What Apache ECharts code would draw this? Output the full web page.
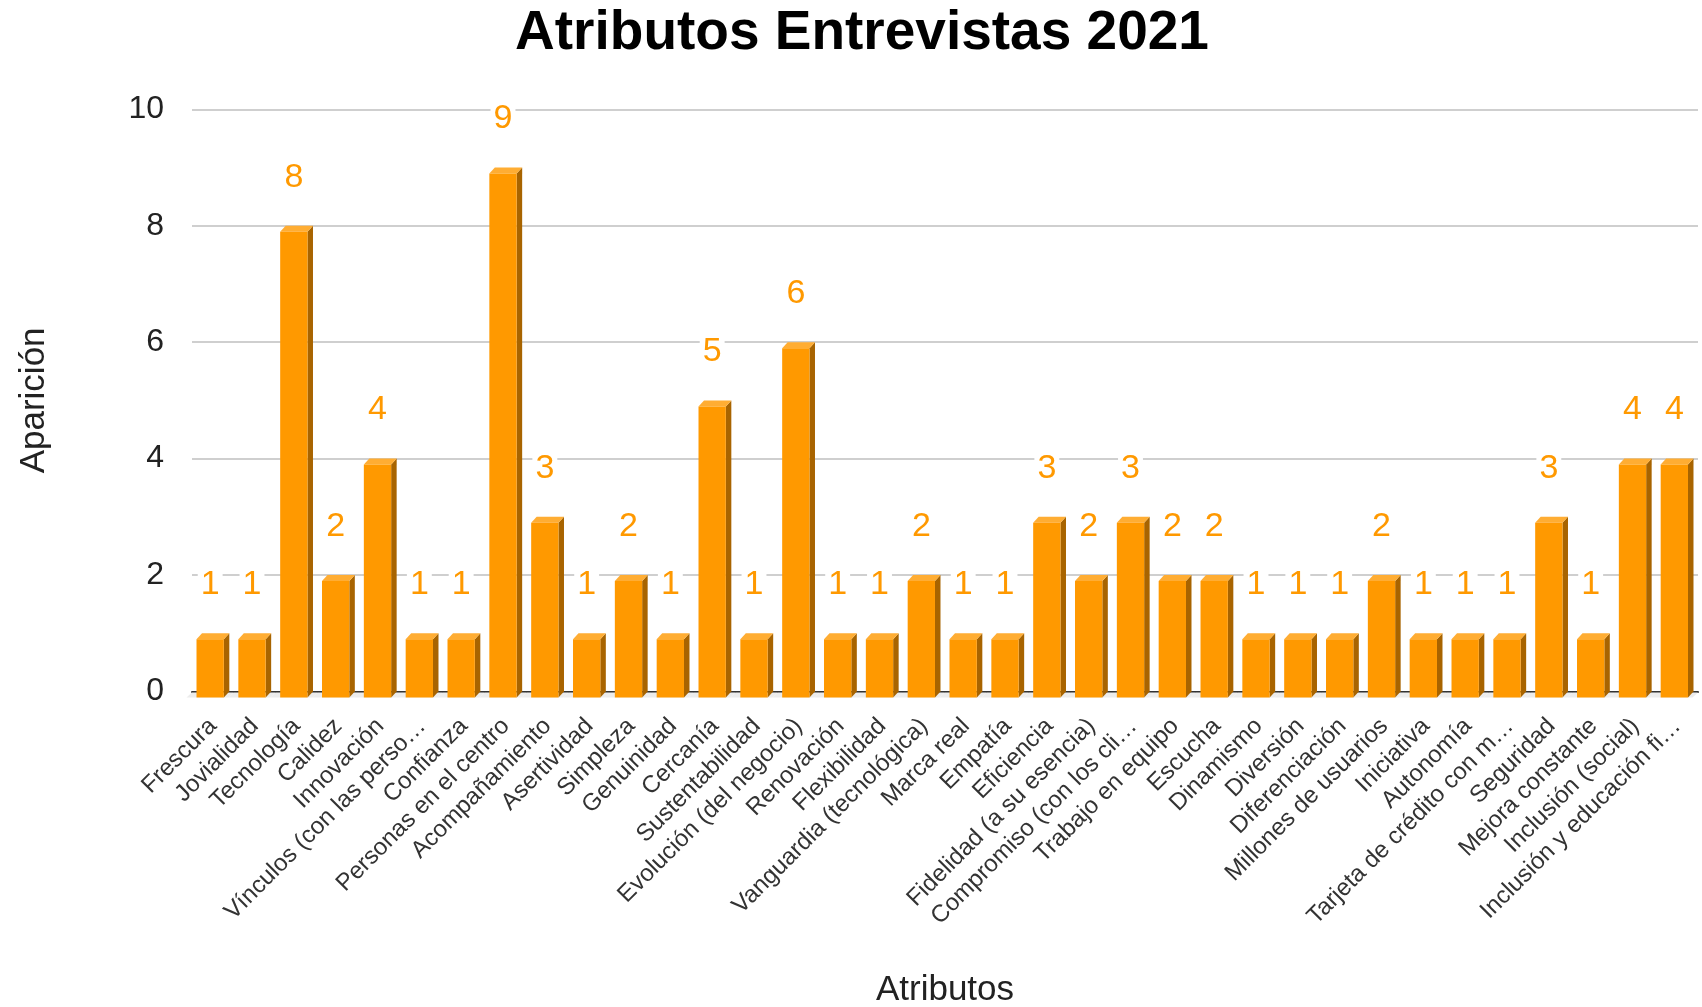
<!DOCTYPE html>
<html>
<head>
<meta charset="utf-8">
<script src="https://cdn.jsdelivr.net/npm/echarts@6/dist/echarts.min.js"></script>
<style>
  html, body { margin: 0; padding: 0; background: #fff; }
  #chart { width: 1702px; height: 1007px; }
</style>
</head>
<body>
<div id="chart"></div>
<script>
// Attributes mentioned in the 2021 interviews and how often each appeared
const categories = [
  'Frescura', 'Jovialidad', 'Tecnología', 'Calidez', 'Innovación',
  'Vínculos (con las perso…', 'Confianza', 'Personas en el centro', 'Acompañamiento',
  'Asertividad', 'Simpleza', 'Genuinidad', 'Cercanía', 'Sustentabilidad',
  'Evolución (del negocio)', 'Renovación', 'Flexibilidad', 'Vanguardia (tecnológica)',
  'Marca real', 'Empatía', 'Eficiencia', 'Fidelidad (a su esencia)',
  'Compromiso (con los cli…', 'Trabajo en equipo', 'Escucha', 'Dinamismo',
  'Diversión', 'Diferenciación', 'Millones de usuarios', 'Iniciativa', 'Autonomía',
  'Tarjeta de crédito con m…', 'Seguridad', 'Mejora constante',
  'Inclusión (social)', 'Inclusión y educación fi…'
];
const apariciones = [
  1, 1, 8, 2, 4,
  1, 1, 9, 3,
  1, 2, 1, 5, 1,
  6, 1, 1, 2,
  1, 1, 3, 2,
  3, 2, 2, 1,
  1, 1, 2, 1, 1,
  1, 3, 1,
  4, 4
];
const yTicks = { min: 0, max: 10, interval: 2 };

const FONT = 'Liberation Sans';
const FRONT = '#FF9900';
const TOP = '#FFAD33';
const SIDE = '#A86400';
const FLOOR = '#ECECEC';

// Pseudo-3D column: front face, lit top face, shaded right side and floor strip
function renderColumn(params, api) {
  const i = api.value(0);
  const v = api.value(1);
  const base = api.coord([i, 0]);
  const top = api.coord([i, v]);
  const band = api.size([1, 0])[0];
  const dx = 5.5, dy = 6;
  const faceW = band * 0.653;
  const cx = base[0];
  const xl = cx - (faceW + dx) / 2;
  const xr = xl + faceW;
  const yb = base[1] + dy;
  const yt = top[1] + dy;
  const bl = cx - band / 2, br = cx + band / 2;
  return {
    type: 'group',
    children: [
      {
        type: 'polygon', z2: -5,
        shape: { points: [[bl, base[1] + 1], [br, base[1] + 1], [br - dx, yb], [bl - dx, yb]] },
        style: { fill: FLOOR }
      },
      {
        type: 'polygon', z2: 1,
        shape: { points: [[xr, yt], [xr + dx, yt - dy], [xr + dx, yb - dy], [xr, yb]] },
        style: { fill: SIDE }
      },
      {
        type: 'polygon', z2: 1,
        shape: { points: [[xl, yt], [xl + dx, yt - dy], [xr + dx, yt - dy], [xr, yt]] },
        style: { fill: TOP }
      },
      {
        type: 'rect', z2: 2,
        shape: { x: xl, y: yt, width: faceW, height: yb - yt },
        style: { fill: FRONT }
      },
      {
        type: 'text', z2: 10,
        style: {
          text: String(v),
          x: (xl + xr) / 2,
          y: top[1] - 48.5,
          align: 'center',
          verticalAlign: 'middle',
          fill: FRONT,
          font: '34px "' + FONT + '"',
          backgroundColor: '#fff',
          padding: [0, 3]
        }
      }
    ]
  };
}

const chart = echarts.init(document.getElementById('chart'), null, { renderer: 'canvas' });
chart.setOption({
  animation: false,
  backgroundColor: '#fff',
  title: {
    text: 'Atributos Entrevistas 2021',
    left: 857,
    top: 1,
    textAlign: 'center',
    textStyle: {
      fontFamily: FONT,
      fontWeight: 'bold',
      fontSize: 55,
      color: '#000',
      lineHeight: 55
    }
  },
  grid: {
    left: 192, right: 4, top: 109.3, bottom: 315.5,
    containLabel: false,
    outerBoundsMode: 'none'
  },
  xAxis: {
    type: 'category',
    data: categories,
    boundaryGap: true,
    name: 'Atributos',
    nameLocation: 'middle',
    nameGap: 281,
    nameMoveOverlap: false,
    nameTextStyle: { fontFamily: FONT, fontSize: 35, color: '#222' },
    axisLine: { show: true, lineStyle: { color: '#333', width: 2 } },
    axisTick: { show: false },
    axisLabel: {
      interval: 0,
      rotate: 45,
      margin: 31,
      fontFamily: FONT,
      fontSize: 24,
      color: '#333'
    },
    splitLine: { show: false }
  },
  yAxis: {
    type: 'value',
    min: yTicks.min,
    max: yTicks.max,
    interval: yTicks.interval,
    name: 'Aparición',
    nameLocation: 'middle',
    nameRotate: 90,
    nameGap: 140,
    nameMoveOverlap: false,
    nameTextStyle: { fontFamily: FONT, fontSize: 35, color: '#222' },
    axisLine: { show: false },
    axisTick: { show: false },
    axisLabel: { margin: 28, fontFamily: FONT, fontSize: 32, color: '#222' },
    splitLine: { show: true, showMinLine: false, lineStyle: { color: '#cfcfcf', width: 2 } }
  },
  series: [
    {
      type: 'custom',
      renderItem: renderColumn,
      encode: { x: 0, y: 1 },
      data: apariciones.map((v, i) => [i, v]),
      clip: false
    }
  ]
});
</script>
</body>
</html>
